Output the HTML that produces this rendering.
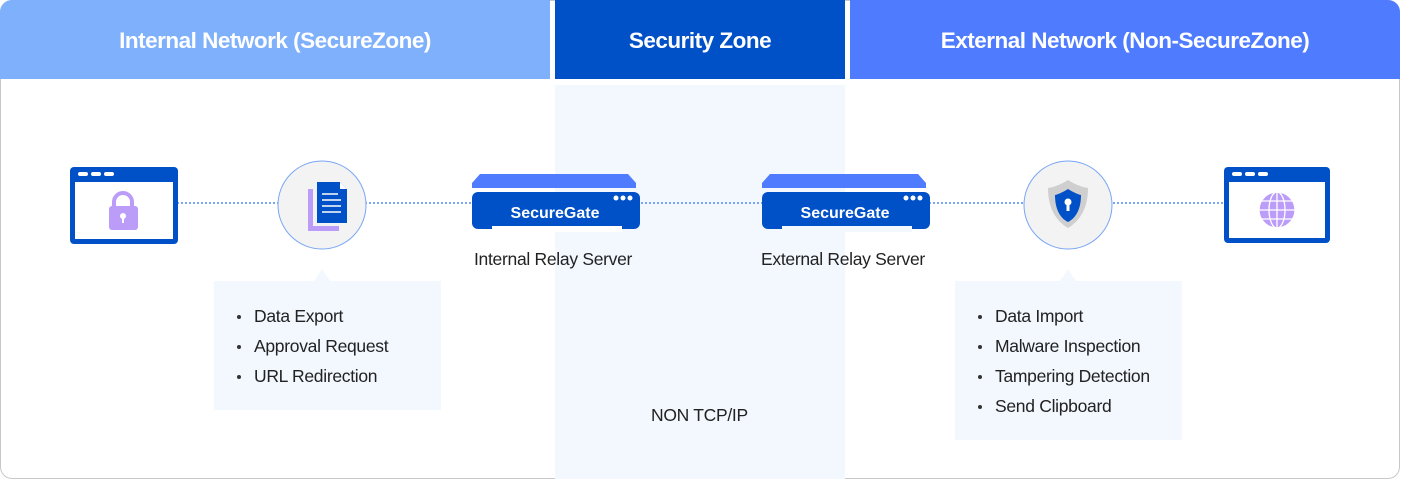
<!DOCTYPE html>
<html><head><style>
body{margin:0;width:1402px;height:480px;background:#fff;font-family:"Liberation Sans",sans-serif;position:relative;overflow:hidden}
.a{position:absolute}
.hd{position:absolute;top:0;height:81px;padding-top:2px;box-sizing:border-box;color:#fff;font-weight:bold;font-size:22.5px;display:flex;align-items:center;justify-content:center;letter-spacing:-0.5px}
.box{position:absolute;background:#f3f7fe;font-size:17.5px;color:#222;letter-spacing:-0.3px}
.box ul{margin:0;padding:20px 0 0 40px;list-style:none}
.box li{height:30px;line-height:30px;position:relative}
.box li:before{content:"";position:absolute;left:-17px;top:14px;width:4px;height:4px;border-radius:50%;background:#333}
.lbl{position:absolute;font-size:17.5px;color:#222;letter-spacing:-0.3px}
</style></head><body>
<div class="a" style="left:0;top:0;width:1398px;height:477px;border:1px solid #c8c8c8;border-radius:12px"></div>
<div class="a" style="left:555px;top:85px;width:290px;height:394px;background:#f3f7fe"></div>
<div class="hd" style="left:0;width:550px;height:79px;background:#7fb0fb;border-top-left-radius:12px">Internal Network (SecureZone)</div>
<div class="hd" style="left:555px;width:290px;height:79px;background:#0050c8">Security Zone</div>
<div class="hd" style="left:850px;width:550px;height:79px;background:#4f7cff;border-top-right-radius:12px">External Network (Non-SecureZone)</div>
<svg class="a" style="left:0;top:0" width="1402" height="480">
<line x1="177" y1="203" x2="1224" y2="203" stroke="#7aa6f5" stroke-width="2" stroke-dasharray="2,2"/>
<rect x="70" y="167" width="108" height="77" rx="4" fill="#0050c8"/>
<rect x="75" y="182" width="98" height="57" fill="#fff"/>
<rect x="78" y="172" width="10" height="4" rx="2" fill="#fff"/><rect x="91" y="172" width="10" height="4" rx="2" fill="#fff"/><rect x="104" y="172" width="10" height="4" rx="2" fill="#fff"/>
<path d="M114 208v-6a9 9 0 0 1 18 0v6" stroke="#bb9cf8" stroke-width="4" fill="none"/>
<rect x="109" y="206" width="29" height="24" rx="3" fill="#bb9cf8"/>
<circle cx="123" cy="216" r="3" fill="#fff"/><rect x="122" y="217" width="2" height="6" fill="#fff"/>
<circle cx="322" cy="205" r="44" fill="#f3f3f3" stroke="#7aa6f5" stroke-width="1"/>
<rect x="308" y="189" width="5" height="41" fill="#bb9cf8"/><rect x="308" y="226" width="31" height="5" fill="#bb9cf8"/>
<path d="M317 182h23l7 7v34h-30z" fill="#0050c8"/>
<path d="M340 182l7 7h-7z" fill="#fff"/>
<g stroke="#fff" stroke-width="1.5"><line x1="322" y1="194" x2="338" y2="194"/><line x1="322" y1="200" x2="341" y2="200"/><line x1="322" y1="206" x2="341" y2="206"/><line x1="322" y1="212" x2="341" y2="212"/></g>
<g>
<path d="M480 174h148l8 9v5h-164v-5z" fill="#4f7cff"/>
<rect x="472" y="192" width="168" height="37" rx="6" fill="#0050c8"/>
<rect x="492" y="226" width="130" height="6" fill="#fff"/>
<circle cx="616" cy="198" r="2.5" fill="#fff"/><circle cx="623" cy="198" r="2.5" fill="#fff"/><circle cx="630" cy="198" r="2.5" fill="#fff"/>
<text x="555" y="218" fill="#fff" font-size="16" font-weight="bold" text-anchor="middle" font-family="Liberation Sans">SecureGate</text>
</g>
<g transform="translate(290,0)">
<path d="M480 174h148l8 9v5h-164v-5z" fill="#4f7cff"/>
<rect x="472" y="192" width="168" height="37" rx="6" fill="#0050c8"/>
<rect x="492" y="226" width="130" height="6" fill="#f3f7fe"/>
<circle cx="616" cy="198" r="2.5" fill="#fff"/><circle cx="623" cy="198" r="2.5" fill="#fff"/><circle cx="630" cy="198" r="2.5" fill="#fff"/>
<text x="555" y="218" fill="#fff" font-size="16" font-weight="bold" text-anchor="middle" font-family="Liberation Sans">SecureGate</text>
</g>
<circle cx="1068" cy="205" r="44" fill="#f3f3f3" stroke="#7aa6f5" stroke-width="1"/>
<path d="M1068 180c-8 5-14 7-20 8c0 20 8 33 20 40c12-7 20-20 20-40c-6-1-12-3-20-8z" fill="#cfcfcf"/>
<path d="M1068 189c-5 3-9 5-13 6c0 14 5 23 13 27c8-4 13-13 13-27c-4-1-8-3-13-6z" fill="#0050c8"/>
<circle cx="1068" cy="202" r="3.5" fill="#fff"/><rect x="1066.5" y="203" width="3" height="8" fill="#fff"/>
<rect x="1224" y="167" width="106" height="76" rx="4" fill="#0050c8"/>
<rect x="1229" y="182" width="96" height="56" fill="#fff"/>
<rect x="1232" y="172" width="10" height="4" rx="2" fill="#fff"/><rect x="1245" y="172" width="10" height="4" rx="2" fill="#fff"/><rect x="1258" y="172" width="10" height="4" rx="2" fill="#fff"/>
<circle cx="1277" cy="210" r="18" fill="#bb9cf8"/>
<g stroke="#fff" stroke-width="1.3" fill="none"><circle cx="1277" cy="210" r="18"/><ellipse cx="1277" cy="210" rx="8" ry="18"/><line x1="1277" y1="192" x2="1277" y2="228"/><line x1="1259" y1="210" x2="1295" y2="210"/><line x1="1262" y1="201" x2="1292" y2="201"/><line x1="1262" y1="219" x2="1292" y2="219"/></g>
<path d="M314 281l8-12 8 12z" fill="#f3f7fe"/>
<path d="M1060 281l8-12 8 12z" fill="#f3f7fe"/>
</svg>
<div class="lbl" style="left:474px;top:249px">Internal Relay Server</div>
<div class="lbl" style="left:761px;top:249px">External Relay Server</div>
<div class="lbl" style="left:651px;top:405px">NON TCP/IP</div>
<div class="box" style="left:214px;top:281px;width:227px;height:129px"><ul><li>Data Export</li><li>Approval Request</li><li>URL Redirection</li></ul></div>
<div class="box" style="left:955px;top:281px;width:227px;height:159px"><ul><li>Data Import</li><li>Malware Inspection</li><li>Tampering Detection</li><li>Send Clipboard</li></ul></div>
</body></html>
